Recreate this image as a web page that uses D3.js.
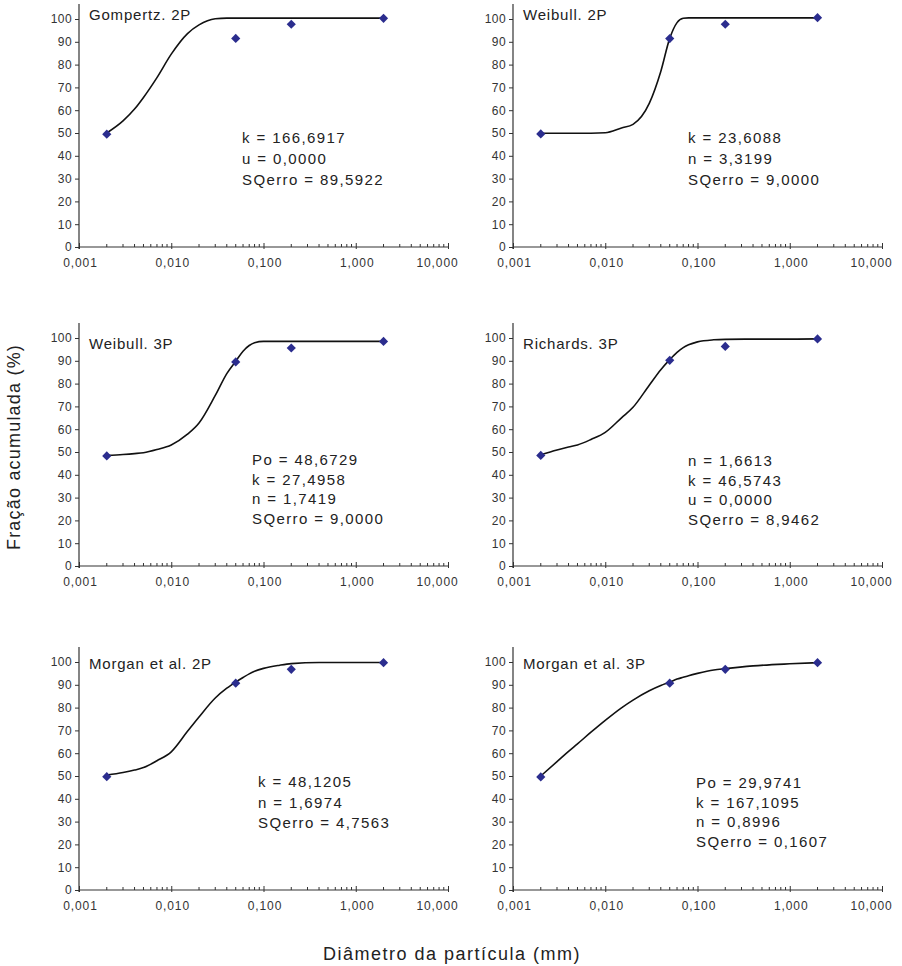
<!DOCTYPE html>
<html>
<head>
<meta charset="utf-8">
<script src="https://cdn.jsdelivr.net/npm/d3@7"></script>
<style>
  html, body { margin: 0; padding: 0; background: #fff; }
  svg { display: block; font-family: "Liberation Sans", Arial, sans-serif; }
</style>
</head>
<body>
<svg id="chart" width="902" height="966"></svg>
<script>
// ---------- DATA ----------
const panelNames = ["Gompertz. 2P", "Weibull. 2P", "Weibull. 3P", "Richards. 3P", "Morgan et al. 2P", "Morgan et al. 3P"];

const obsX = [0.002, 0.05, 0.2, 2];
const obsGompertz2P = [49.5, 91.5, 97.7, 100.3];
const obsWeibull2P  = [49.6, 91.4, 97.7, 100.6];
const obsWeibull3P  = [48.3, 89.5, 95.6, 98.5];
const obsRichards3P = [48.5, 90.2, 96.3, 99.6];
const obsMorgan2P   = [49.7, 90.7, 96.8, 99.7];
const obsMorgan3P   = [49.6, 90.7, 96.8, 99.7];

const fitX = [0.002, 0.003, 0.004, 0.005, 0.007, 0.01, 0.015, 0.02, 0.03, 0.04, 0.05, 0.06, 0.07, 0.08, 0.1, 0.15, 0.2, 0.4, 1, 2];
const fitGompertz2P = [50.0, 55.3, 60.5, 65.6, 74.3, 84.6, 93.6, 97.4, 100.1, 100.4, 100.4, 100.4, 100.4, 100.4, 100.4, 100.4, 100.4, 100.4, 100.4, 100.4];
const fitWeibull2P  = [49.9, 49.9, 49.9, 49.9, 49.9, 50.1, 52.2, 53.8, 63.0, 77.0, 91.5, 98.4, 100.3, 100.5, 100.5, 100.5, 100.5, 100.5, 100.5, 100.5];
const fitWeibull3P  = [48.5, 48.9, 49.3, 49.7, 51.1, 53.1, 57.8, 62.7, 74.8, 84.4, 89.8, 94.2, 96.7, 97.9, 98.5, 98.5, 98.5, 98.5, 98.5, 98.5];
const fitRichards3P = [48.8, 50.9, 52.2, 53.1, 55.5, 58.6, 65.0, 69.6, 79.3, 86.1, 90.5, 93.7, 95.8, 97.0, 98.3, 99.2, 99.4, 99.5, 99.5, 99.6];
const fitMorgan2P   = [50.4, 51.5, 52.6, 53.7, 56.7, 60.6, 69.6, 75.9, 84.2, 88.5, 91.2, 93.2, 94.8, 95.9, 97.2, 98.6, 99.3, 99.8, 99.8, 99.8];
const fitMorgan3P   = [50.0, 56.3, 60.8, 64.1, 69.2, 74.4, 79.9, 83.3, 87.4, 89.7, 91.2, 92.5, 93.3, 94.0, 95.0, 96.5, 97.1, 98.3, 99.2, 99.7];

const paramsGompertz2P = ["k = 166,6917", "u = 0,0000", "SQerro = 89,5922"];
const paramsWeibull2P  = ["k = 23,6088", "n = 3,3199", "SQerro = 9,0000"];
const paramsWeibull3P  = ["Po = 48,6729", "k = 27,4958", "n = 1,7419", "SQerro = 9,0000"];
const paramsRichards3P = ["n = 1,6613", "k = 46,5743", "u = 0,0000", "SQerro = 8,9462"];
const paramsMorgan2P   = ["k = 48,1205", "n = 1,6974", "SQerro = 4,7563"];
const paramsMorgan3P   = ["Po = 29,9741", "k = 167,1095", "n = 0,8996", "SQerro = 0,1607"];

const xTickValues = [0.001, 0.01, 0.1, 1, 10];
const yTickValues = [0, 10, 20, 30, 40, 50, 60, 70, 80, 90, 100];

const yAxisTitle = "Fração acumulada (%)";
const xAxisTitle = "Diâmetro da partícula (mm)";

// ---------- LAYOUT ----------
const obsSets = [obsGompertz2P, obsWeibull2P, obsWeibull3P, obsRichards3P, obsMorgan2P, obsMorgan3P];
const fitSets = [fitGompertz2P, fitWeibull2P, fitWeibull3P, fitRichards3P, fitMorgan2P, fitMorgan3P];
const paramSets = [paramsGompertz2P, paramsWeibull2P, paramsWeibull3P, paramsRichards3P, paramsMorgan2P, paramsMorgan3P];

const layout = [
  {ax: 79,  y0: 247, titleY: 20,  px: 242, py: 143, dy: 21},
  {ax: 513, y0: 247, titleY: 20,  px: 688, py: 143, dy: 21},
  {ax: 79,  y0: 566, titleY: 349, px: 252, py: 465, dy: 19.7},
  {ax: 513, y0: 566, titleY: 349, px: 688, py: 466, dy: 19.5},
  {ax: 79,  y0: 890, titleY: 669, px: 258, py: 787, dy: 20.5},
  {ax: 513, y0: 890, titleY: 669, px: 696, py: 788, dy: 19.7}
];
const plotW = 369, plotH = 228;
const markerColor = "#2b2d8e";
const textColor = "#222";

const svg = d3.select("#chart");
const fmtX = d => d3.format(".3f")(d).replace(".", ",");

layout.forEach((L, i) => {
  const x = d3.scaleLog().domain([0.001, 10]).range([L.ax, L.ax + plotW]);
  const y = d3.scaleLinear().domain([0, 100]).range([L.y0, L.y0 - plotH]);
  const g = svg.append("g");

  // Y axis
  const yAxis = g.append("g").attr("transform", `translate(${L.ax},0)`)
    .call(d3.axisLeft(y).tickValues(yTickValues).tickSize(4).tickPadding(3).tickSizeOuter(0));
  yAxis.select(".domain").remove();
  yAxis.selectAll(".tick line").attr("stroke", "#333").attr("stroke-width", 1);
  yAxis.selectAll(".tick text").attr("fill", "#333").style("font-size", "12px")
    .style("letter-spacing", "0.4px").style("font-family", "'Liberation Sans', Arial, sans-serif");
  g.append("line").attr("x1", L.ax).attr("x2", L.ax)
    .attr("y1", y(0) + 2).attr("y2", y(106.6)).attr("stroke", "#333").attr("stroke-width", 1.2);

  // X axis
  const xAxis = g.append("g").attr("transform", `translate(0,${L.y0})`)
    .call(d3.axisBottom(x).tickValues(xTickValues).tickFormat(fmtX).tickSize(0).tickSizeOuter(0));
  xAxis.select(".domain").remove();
  xAxis.selectAll(".tick line").attr("y1", -4).attr("y2", 2).attr("stroke", "#333").attr("stroke-width", 1);
  xAxis.selectAll(".tick text").attr("y", 20).attr("dy", 0).attr("fill", "#333")
    .attr("x", d => (d === 10 ? -11 : 1))
    .style("font-size", "12px").style("letter-spacing", "0.9px")
    .style("font-family", "'Liberation Sans', Arial, sans-serif");
  g.append("line").attr("x1", x(0.001)).attr("x2", x(10))
    .attr("y1", L.y0).attr("y2", L.y0).attr("stroke", "#333").attr("stroke-width", 1.2);
  const minor = [];
  for (let dec = 0.001; dec < 10; dec *= 10) for (let m = 2; m <= 9; m++) minor.push(dec * m);
  g.append("g").selectAll("line").data(minor).join("line")
    .attr("x1", d => x(d)).attr("x2", d => x(d))
    .attr("y1", L.y0).attr("y2", L.y0 - 3).attr("stroke", "#333").attr("stroke-width", 1);

  // Fitted curve
  const pts = fitX.map((xv, j) => [xv, fitSets[i][j]]);
  g.append("path").datum(pts)
    .attr("d", d3.line().x(d => x(d[0])).y(d => y(d[1])).curve(d3.curveMonotoneX))
    .attr("fill", "none").attr("stroke", "#111").attr("stroke-width", 1.6);

  // Observed points (diamonds)
  const sym = d3.symbol().type(d3.symbolSquare).size(42);
  g.append("g").selectAll("path").data(obsX.map((xv, j) => [xv, obsSets[i][j]])).join("path")
    .attr("d", sym)
    .attr("transform", d => `translate(${x(d[0])},${y(d[1])}) rotate(45)`)
    .attr("fill", markerColor);

  // Title
  g.append("text").attr("x", L.ax + 10).attr("y", L.titleY)
    .attr("fill", textColor).style("font-size", "15px").style("letter-spacing", "0.8px")
    .text(panelNames[i]);

  // Parameters
  g.append("g").selectAll("text").data(paramSets[i]).join("text")
    .attr("x", L.px).attr("y", (d, j) => L.py + j * L.dy)
    .attr("fill", textColor).style("font-size", "15px").style("letter-spacing", "1.4px")
    .text(d => d);
});

// Axis titles
svg.append("text")
  .attr("transform", "translate(20,447) rotate(-90)")
  .attr("text-anchor", "middle").attr("fill", textColor)
  .style("font-size", "18px").style("letter-spacing", "1.2px")
  .text(yAxisTitle);

svg.append("text")
  .attr("x", 452).attr("y", 960)
  .attr("text-anchor", "middle").attr("fill", textColor)
  .style("font-size", "18px").style("letter-spacing", "1.5px")
  .text(xAxisTitle);
</script>
</body>
</html>
